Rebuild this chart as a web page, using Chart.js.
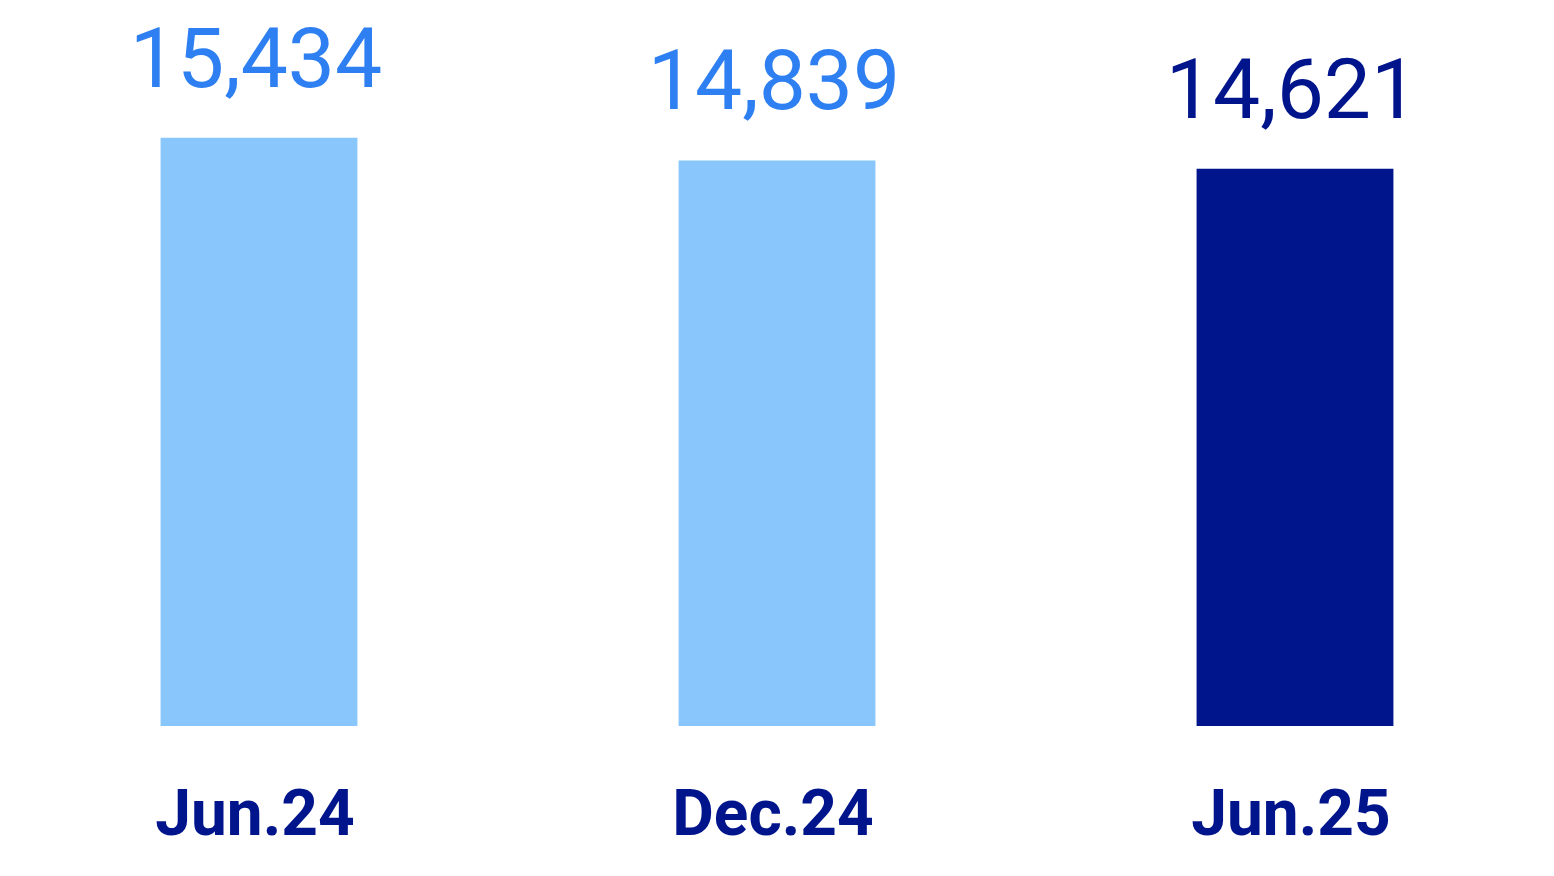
<!DOCTYPE html>
<html>
<head>
<meta charset="utf-8">
<script src="https://cdn.jsdelivr.net/npm/chart.js@4"></script>
<style>
  html, body { margin: 0; padding: 0; background: #fff; }
  #wrap { width: 1554px; height: 876px; }
</style>
</head>
<body>
<div id="wrap"><canvas id="chart-main" width="1554" height="876"></canvas></div>
<script>
/* global Chart */
const categories = ["Jun.24", "Dec.24", "Jun.25"];
const values = [15434, 14839, 14621];
const valueLabels = ["15,434", "14,839", "14,621"];
const barColors = ["#88c6fc", "#88c6fc", "#00148c"];
const labelColors = ["#2e80f2", "#2e80f2", "#00148c"];

const labelsPlugin = {
  id: "labels",
  afterDatasetsDraw(chart) {
    const ctx = chart.ctx;
    const meta = chart.getDatasetMeta(0);
    const x = chart.scales.x;
    ctx.save();
    ctx.textAlign = "center";
    ctx.textBaseline = "alphabetic";
    meta.data.forEach((bar, i) => {
      ctx.fillStyle = labelColors[i];
      ctx.font = '400 84px Roboto';
      ctx.fillText(valueLabels[i], bar.x - 3, bar.y - 51);
      ctx.fillStyle = "#00148c";
      ctx.font = '700 64px Roboto';
      ctx.fillText(categories[i], x.getPixelForValue(i) - 4, 835);
    });
    ctx.restore();
  },
};

const ctx = document.getElementById("chart-main").getContext("2d");
new Chart(ctx, {
  type: "bar",
  data: {
    labels: categories,
    datasets: [
      {
        data: values,
        backgroundColor: barColors,
        borderWidth: 0,
        barPercentage: 0.38,
        categoryPercentage: 1,
      },
    ],
  },
  options: {
    responsive: false,
    animation: false,
    layout: { padding: { top: 40, bottom: 150, left: 0, right: 0 } },
    plugins: { legend: { display: false }, tooltip: { enabled: false } },
    scales: {
      x: { display: false },
      y: { display: false, min: 0, max: 18000 },
    },
  },
  plugins: [labelsPlugin],
});
</script>
</body>
</html>
